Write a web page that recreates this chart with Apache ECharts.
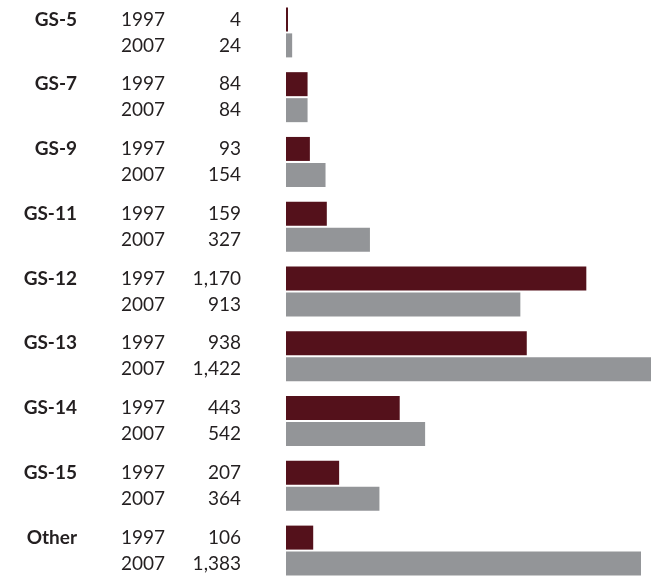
<!DOCTYPE html>
<html>
<head>
<meta charset="utf-8">
<script src="https://cdn.jsdelivr.net/npm/echarts@6/dist/echarts.min.js"></script>
<style>
html,body{margin:0;padding:0;background:#fff;}
#chart{width:651px;height:583px;}
</style>
</head>
<body>
<div id="chart"></div>
<script>
const grades = ['GS-5','GS-7','GS-9','GS-11','GS-12','GS-13','GS-14','GS-15','Other'];
const years = ['1997','2007'];
const values1997 = [4,84,93,159,1170,938,443,207,106];
const values2007 = [24,84,154,327,913,1422,542,364,1383];

const fmt = v => v.toLocaleString('en-US');
const FONT = 'Lato';
const TXT = '#231f20';
const FS = 19;

const chart = echarts.init(document.getElementById('chart'), null, {renderer:'canvas'});

const rich = {
  y: {width: 49, align: 'left', fontSize: FS, fontFamily: FONT, color: TXT},
  v: {width: 71, align: 'right', fontSize: FS, fontFamily: FONT, color: TXT}
};

function yearLabel(yr) {
  return {
    show: true, position: 'left', distance: 45,
    formatter: p => '{y|' + yr + '}{v|' + fmt(p.value) + '}',
    rich: rich
  };
}

chart.setOption({
  animation: false,
  grid: {left: 286, right: 0, top: -3, height: 592},
  xAxis: {type: 'value', min: 0, max: 1422, show: false},
  yAxis: {
    type: 'category', data: grades, inverse: true,
    axisLine: {show: false}, axisTick: {show: false}, splitLine: {show: false},
    axisLabel: {
      show: true, align: 'right', margin: 209,
      fontSize: FS, fontWeight: 'bold', fontFamily: FONT, color: TXT,
      verticalAlign: 'bottom', lineHeight: 26
    }
  },
  series: [
    {
      name: years[0], type: 'bar', data: values1997,
      barWidth: 24, barGap: '8.33%', barMinHeight: 2,
      itemStyle: {color: '#54111b'},
      label: yearLabel(years[0])
    },
    {
      name: years[1], type: 'bar', data: values2007,
      barWidth: 24,
      itemStyle: {color: '#939598'},
      label: yearLabel(years[1])
    }
  ]
});
</script>
</body>
</html>
